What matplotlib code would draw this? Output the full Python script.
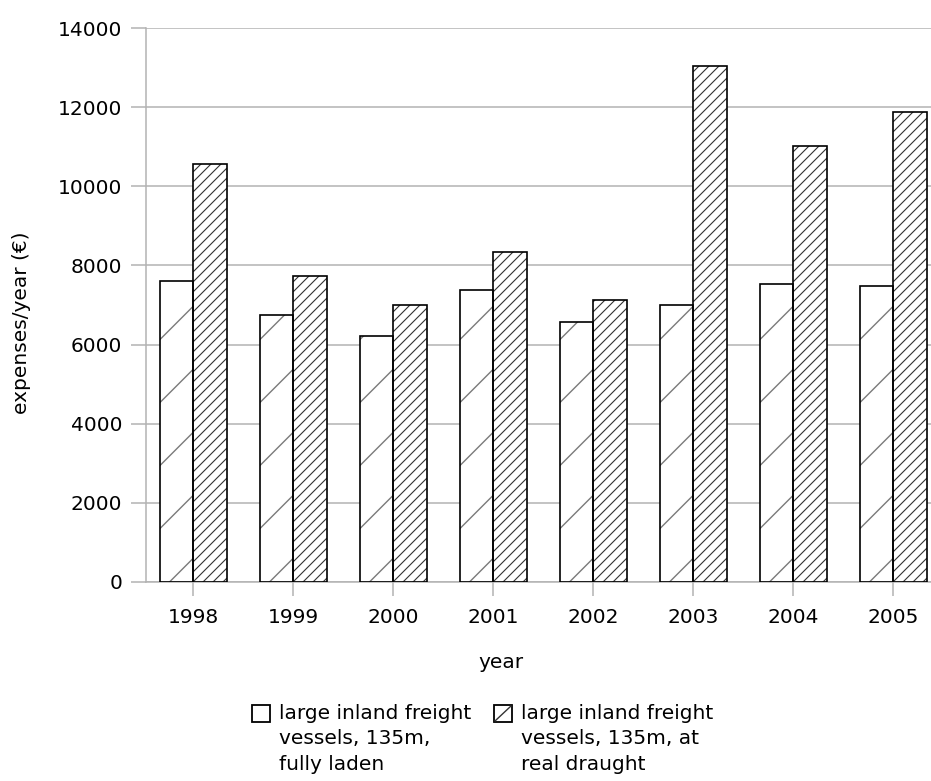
import matplotlib
matplotlib.use('Agg')
import matplotlib.pyplot as plt
import numpy as np
from matplotlib.patches import Rectangle
from matplotlib.lines import Line2D

# data
years = ['1998', '1999', '2000', '2001', '2002', '2003', '2004', '2005']
fully_laden = [7600, 6740, 6220, 7390, 6580, 6990, 7540, 7490]
real_draught = [10570, 7740, 6990, 8350, 7130, 13050, 11030, 11880]
series_labels = ['large inland freight\nvessels, 135m,\nfully laden',
                 'large inland freight\nvessels, 135m, at\nreal draught']

plt.rcParams['font.family'] = ['DejaVu Sans']
plt.rcParams['font.size'] = 14.5
grid_grey = '#b3b3b3'

W, H = 931, 781
fig = plt.figure(figsize=(W / 100, H / 100), dpi=100)
ax = fig.add_axes([145.7 / W, 1 - 581.7 / H, (W - 145.7) / W, (581.7 - 28.3) / H])

x = np.arange(len(years))
w = 0.335
ax.set_xlim(-0.476, 7.377)
ax.set_ylim(0, 14000)
ax.set_autoscale_on(False)

# white fill underneath, outlines on top of the slanted fill lines
ax.bar(x - w / 2, fully_laden, w, facecolor='white', edgecolor='none', zorder=2.5)
ax.bar(x + w / 2, real_draught, w, facecolor='white', edgecolor='none', zorder=2.5)
bars1 = ax.bar(x - w / 2, fully_laden, w, facecolor='none', edgecolor='black',
               linewidth=1.2, zorder=4)
bars2 = ax.bar(x + w / 2, real_draught, w, facecolor='none', edgecolor='black',
               linewidth=1.2, zorder=4)


def slant_lines(bars, step, start, color, lw):
    # diagonal fill lines at 45 degrees on screen, clipped to each bar
    inv = ax.transData.inverted()
    for bar in bars:
        (x0, y0), (x1, y1) = ax.transData.transform(
            [(bar.get_x(), 0), (bar.get_x() + bar.get_width(), bar.get_height())])
        span = x1 - x0
        for c in np.arange(start - step * np.ceil(span / step), y1 - y0, step):
            pts = inv.transform([(x0, y0 + c), (x1, y0 + c + span)])
            ln, = ax.plot(pts[:, 0], pts[:, 1], color=color, lw=lw, zorder=3.5,
                          solid_capstyle='butt')
            ln.set_clip_path(bar)


slant_lines(bars1, 63, -10, '#7a7a7a', 1.0)
slant_lines(bars2, 10, 0, '#333333', 0.8)

ax.set_yticks(np.arange(0, 14001, 2000))
ax.set_xticks(x)
ax.set_xticklabels(years)
ax.yaxis.grid(True, color=grid_grey, lw=1.1)
ax.set_axisbelow(True)
for side in ['top', 'right']:
    ax.spines[side].set_visible(False)
for side in ['left', 'bottom']:
    ax.spines[side].set_color(grid_grey)
    ax.spines[side].set_linewidth(1.1)
ax.tick_params(axis='y', length=10.8, width=1.1, color=grid_grey, pad=6)
ax.tick_params(axis='x', length=10, width=1.1, color=grid_grey, pad=9)

fig.text(501 / W, 1 - 663 / H, 'year', ha='center', va='center')
fig.text(22 / W, 1 - 323 / H, 'expenses/year (€)', rotation=90, ha='center', va='center')

# legend, laid out like the original (key square beside first text line)
for i, (kx, label) in enumerate(zip([252, 494], series_labels)):
    fig.patches.append(Rectangle((kx / W, 1 - 722 / H), 18 / W, 17 / H,
                                 transform=fig.transFigure, facecolor='white',
                                 edgecolor='black', lw=1.3))
    if i == 1:
        fig.lines.append(Line2D([(kx + 1) / W, (kx + 17) / W],
                                [1 - 721 / H, 1 - 706 / H],
                                transform=fig.transFigure, color='#333333', lw=1.0))
    fig.text((kx + 27) / W, 1 - 704 / H, label, ha='left', va='top',
             linespacing=1.42)

fig.savefig('out.png', dpi=100)
